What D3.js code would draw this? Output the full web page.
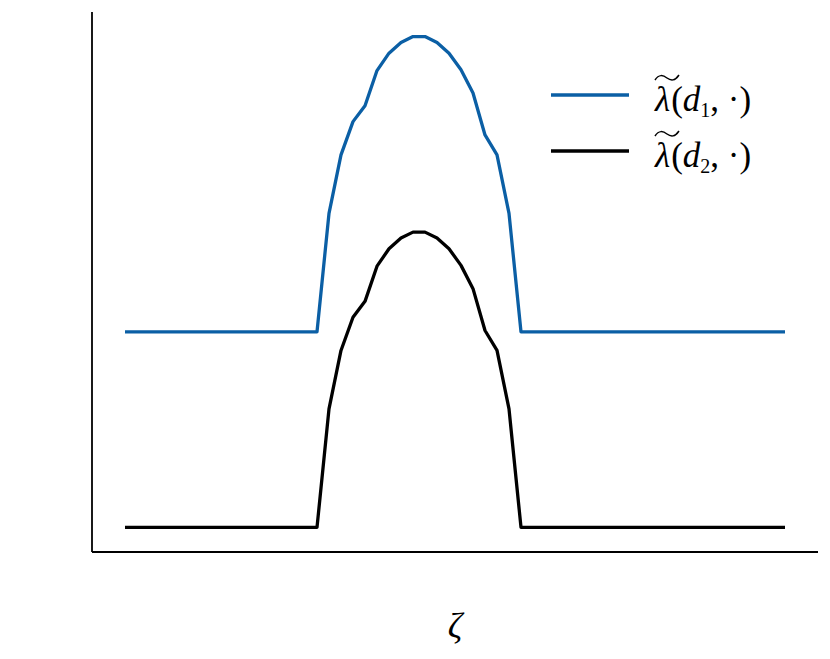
<!DOCTYPE html>
<html>
<head>
<meta charset="utf-8">
<script src="https://cdn.jsdelivr.net/npm/d3@7"></script>
<style>
  body { margin: 0; background: #fff; }
  svg { display: block; }
</style>
</head>
<body>
<div id="chart"></div>
<script>
// grid of zeta samples (index positions)
const zeta = [0,1,2,3,4,5,6,7,8,9,10,11,12,13,14,15,16,17,18,19,20,21,22,23,24,25,26,27,
              28,29,30,31,32,33,34,35,36,37,38,39,40,41,42,43,44,45,46,47,48,49,50,51,52,53,54,55];

// lambda~(d1, .) values
const lambdaD1 = [1,1,1,1,1,1,1,1,1,1,1,1,1,1,1,1,
                  1,1.606,1.905,2.075,2.156,2.336,2.425,2.48,2.51,2.51,2.48,2.425,2.34,2.221,2.007,1.905,1.606,1,
                  1,1,1,1,1,1,1,1,1,1,1,1,1,1,1,1,1,1,1,1,1,1];

// lambda~(d2, .) values
const lambdaD2 = [0,0,0,0,0,0,0,0,0,0,0,0,0,0,0,0,
                  0,0.606,0.905,1.075,1.156,1.336,1.425,1.48,1.51,1.51,1.48,1.425,1.34,1.221,1.007,0.905,0.606,0,
                  0,0,0,0,0,0,0,0,0,0,0,0,0,0,0,0,0,0,0,0,0,0];

const seriesNames = ['d1', 'd2'];
const seriesColors = ['#0b5fa5', '#000000'];

const width = 830, height = 659;
const margin = { left: 92, right: 12, top: 12, bottom: 107 };

const svg = d3.select('#chart').append('svg')
    .attr('width', width)
    .attr('height', height);

// 5% padding like an autoscaled plot
function padded(ext) {
    const p = (ext[1] - ext[0]) * 0.05;
    return [ext[0] - p, ext[1] + p];
}

const x = d3.scaleLinear()
    .domain(padded(d3.extent(zeta)))
    .range([margin.left, width - margin.right]);

const allY = lambdaD1.concat(lambdaD2);
const y = d3.scaleLinear()
    .domain(padded(d3.extent(allY)))
    .range([height - margin.bottom, margin.top]);

const line = d3.line()
    .x((d, i) => x(zeta[i]))
    .y(d => y(d));

// data lines
[lambdaD1, lambdaD2].forEach((vals, k) => {
    svg.append('path')
        .datum(vals)
        .attr('fill', 'none')
        .attr('stroke', seriesColors[k])
        .attr('stroke-width', 3.3)
        .attr('stroke-linejoin', 'round')
        .attr('d', line);
});

// spines (left and bottom only)
const spine = svg.append('g')
    .attr('stroke', '#000')
    .attr('stroke-width', 1.8)
    .attr('fill', 'none');
spine.append('line')
    .attr('x1', margin.left).attr('x2', margin.left)
    .attr('y1', margin.top).attr('y2', height - margin.bottom);
spine.append('line')
    .attr('x1', margin.left).attr('x2', width - margin.right)
    .attr('y1', height - margin.bottom).attr('y2', height - margin.bottom);

// x label
svg.append('text')
    .attr('x', (margin.left + width - margin.right) / 2)
    .attr('y', 638)
    .attr('text-anchor', 'middle')
    .attr('font-family', 'Liberation Serif, serif')
    .attr('font-style', 'italic')
    .attr('font-size', 36)
    .text('ζ');

// legend
const legend = svg.append('g')
    .attr('font-family', 'Liberation Serif, serif')
    .attr('font-size', 35);

seriesNames.forEach((name, k) => {
    const ly = 95 + k * 56;
    legend.append('line')
        .attr('x1', 551).attr('x2', 629)
        .attr('y1', ly).attr('y2', ly)
        .attr('stroke', seriesColors[k])
        .attr('stroke-width', 3.3);

    const t = legend.append('text')
        .attr('x', 655)
        .attr('y', ly + 16);
    t.append('tspan').attr('font-style', 'italic').text('λ');
    t.append('tspan').attr('dx', 1).text('(');
    t.append('tspan').attr('font-style', 'italic').text('d');
    t.append('tspan').attr('font-size', 20).attr('dy', 6).text(name.slice(1));
    t.append('tspan').attr('dy', -6).text(', ·)');

    // wide tilde over lambda
    const tx = 655, ty = ly - 18;
    legend.append('path')
        .attr('d', `M${tx},${ty + 3} C${tx + 4},${ty - 3} ${tx + 8},${ty - 2} ${tx + 12},${ty + 1} S${tx + 20},${ty + 4} ${tx + 24},${ty - 2}`)
        .attr('fill', 'none')
        .attr('stroke', '#000')
        .attr('stroke-width', 1.5);
});
</script>
</body>
</html>
